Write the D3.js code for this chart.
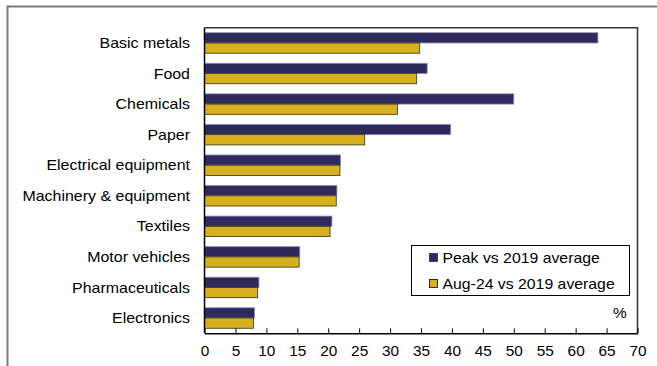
<!DOCTYPE html>
<html>
<head>
<meta charset="utf-8">
<script src="https://cdn.jsdelivr.net/npm/d3@7"></script>
<style>
  body { margin: 0; background: #fff; }
  svg { display: block; font-family: "Liberation Sans", Arial, sans-serif; }
</style>
</head>
<body>
<div id="chart"></div>
<script>
const width = 657;
const height = 366;

// Data
const categories = ["Basic metals", "Food", "Chemicals", "Paper", "Electrical equipment",
  "Machinery & equipment", "Textiles", "Motor vehicles", "Pharmaceuticals", "Electronics"];
const seriesNames = ["Peak vs 2019 average", "Aug-24 vs 2019 average"];
const peakValues = [63.6, 36.0, 50.0, 39.8, 22.0, 21.4, 20.6, 15.4, 8.8, 8.1];
const augValues  = [34.8, 34.3, 31.2, 25.9, 21.9, 21.3, 20.3, 15.3, 8.6, 7.9];
const xTicks = [0, 5, 10, 15, 20, 25, 30, 35, 40, 45, 50, 55, 60, 65, 70];

const colours = ["#2e2a5c", "#d6b020"];
const strokes = ["#8f8ab8", "#3a3200"];

// plot box edges
const plotLeft = 204.5, plotRight = 637.5, plotTop = 27.7, plotBottom = 333.3;
// the text in the reference is a bit wider than plain Arial
const stretch = 1.1;

const svg = d3.select("#chart").append("svg")
    .attr("width", width)
    .attr("height", height);

// outer frame (only top and left edge visible)
svg.append("path")
    .attr("d", `M7.5,${height} V6.5 H${width}`)
    .attr("fill", "none")
    .attr("stroke", "#7a7a7a")
    .attr("stroke-width", 2);

const x = d3.scaleLinear().domain([0, 70]).range([plotLeft, plotRight]);
const y0 = d3.scaleBand().domain(categories).range([plotTop, plotBottom])
    .paddingInner(0.33).paddingOuter(0.165);
const y1 = d3.scaleBand().domain(seriesNames).range([0, y0.bandwidth()]);

// plot box, top and right edges
svg.append("path")
    .attr("d", `M${plotLeft},${plotTop} H${plotRight} V${plotBottom}`)
    .attr("fill", "none")
    .attr("stroke", "#333")
    .attr("stroke-width", 1.5);

const rows = categories.map((c, i) => ({ cat: c, vals: [peakValues[i], augValues[i]] }));

const groups = svg.selectAll("g.row")
  .data(rows).enter()
    .append("g")
      .attr("class", "row")
      .attr("transform", d => "translate(0," + y0(d.cat) + ")");

groups.selectAll("rect")
  .data(d => d.vals.map((v, j) => ({ v: v, s: seriesNames[j], j: j })))
  .enter().append("rect")
    .attr("x", x(0))
    .attr("y", d => y1(d.s))
    .attr("width", d => x(d.v) - x(0))
    .attr("height", y1.bandwidth())
    .attr("fill", d => colours[d.j])
    .attr("stroke", d => strokes[d.j])
    .attr("stroke-width", 0.8);

// category labels
svg.selectAll("text.cat")
  .data(categories).enter()
    .append("text")
      .attr("class", "cat")
      .attr("transform", d => `translate(190,${y0(d) + y0.bandwidth() / 2}) scale(1.14,1)`)
      .attr("dy", "0.36em")
      .attr("text-anchor", "end")
      .attr("font-size", 14)
      .attr("fill", "#000")
      .text(d => d);

// x axis with inward ticks
const xAxis = svg.append("g")
    .attr("transform", `translate(0,${plotBottom})`)
    .call(d3.axisBottom(x).tickValues(xTicks).tickFormat(d3.format("d"))
      .tickSizeInner(-5).tickSizeOuter(0).tickPadding(13));
xAxis.select(".domain").attr("stroke", "#000").attr("stroke-width", 1.5);
xAxis.selectAll(".tick line").attr("stroke", "#000");
xAxis.selectAll(".tick text").attr("font-size", 14).attr("fill", "#000")
    .attr("font-family", "'Liberation Sans', Arial, sans-serif")
    .attr("transform", `scale(${stretch},1)`);

// y axis line
svg.append("line")
    .attr("x1", plotLeft).attr("x2", plotLeft)
    .attr("y1", plotTop).attr("y2", plotBottom)
    .attr("stroke", "#000")
    .attr("stroke-width", 1.5);

// unit label
svg.append("text")
    .attr("transform", `translate(613,318) scale(${stretch},1)`)
    .attr("font-size", 14)
    .text("%");

// legend
const legend = svg.append("g").attr("transform", "translate(411.5,245.5)");
legend.append("rect")
    .attr("width", 218)
    .attr("height", 50)
    .attr("fill", "#fff")
    .attr("stroke", "#000")
    .attr("stroke-width", 1);

const items = legend.selectAll("g.item")
  .data(seriesNames).enter()
    .append("g")
      .attr("class", "item")
      .attr("transform", (d, i) => "translate(0," + (i * 26) + ")");

items.append("rect")
    .attr("x", 18).attr("y", 8)
    .attr("width", 8).attr("height", 8)
    .attr("fill", (d, i) => colours[i])
    .attr("stroke", (d, i) => i ? "#000" : colours[i])
    .attr("stroke-width", 0.8);

items.append("text")
    .attr("transform", "translate(31,17) scale(1.13,1)")
    .attr("font-size", 14)
    .text(d => d);
</script>
</body>
</html>
